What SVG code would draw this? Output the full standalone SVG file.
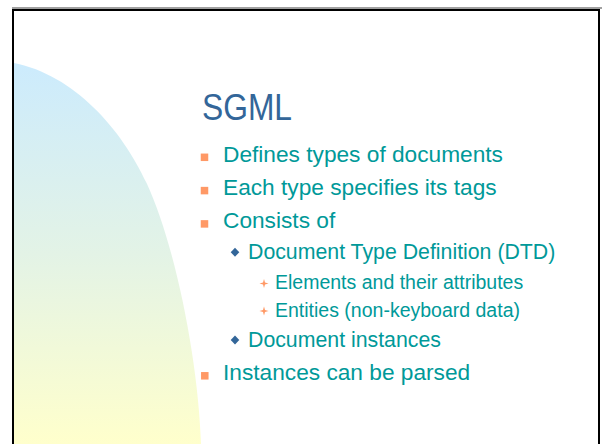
<svg xmlns="http://www.w3.org/2000/svg" xmlns:xlink="http://www.w3.org/1999/xlink" width="602" height="444" viewBox="0 0 602 444">
<defs>
<linearGradient id="bg" gradientUnits="userSpaceOnUse" x1="0" y1="63" x2="0" y2="444">
<stop offset="0" stop-color="#CCEBFD"/>
<stop offset="0.5" stop-color="#E3F3E6"/>
<stop offset="1" stop-color="#FFFFCC"/>
</linearGradient>
<rect id="sq" x="-3.75" y="-3.75" width="7.5" height="7.5" fill="#FF9966"/>
<path id="dia" d="M0,-4.5 L4.3,0 L0,4.5 L-4.3,0 Z" fill="#336699"/>
<path id="star" d="M0,-4.5 L1,-1 L4.5,0 L1,1 L0,4.5 L-1,1 L-4.5,0 L-1,-1 Z" fill="#FF9966"/>
</defs>
<style>
.t{font-family:"Liberation Sans",Arial,sans-serif;fill:#009999}
.l1{font-size:22.7px}
.l2{font-size:21.3px}
.l3{font-size:19.5px}
.title{font-family:"Liberation Sans Narrow","Liberation Sans",Arial,sans-serif;font-size:37px;fill:#336699}
</style>
<rect width="602" height="444" fill="#FFFFFF"/>
<g id="background">
<path d="M14,63 C74,75 121.5,128.7 146.7,183.3 C176.1,247 198.6,364 201,444 L14,444 Z" fill="url(#bg)"/>
</g>
<g id="frame">
<rect x="12" y="7" width="590" height="2" fill="#A0A0A0"/>
<rect x="12" y="9" width="588" height="2" fill="#000000"/>
<rect x="12" y="9" width="2" height="435" fill="#000000"/>
<rect x="598" y="9" width="2" height="435" fill="#000000"/>
</g>
<g id="title">
<text class="title" x="202" y="120" textLength="90" lengthAdjust="spacingAndGlyphs">SGML</text>
</g>
<g id="bullet1">
<use xlink:href="#sq" x="204.5" y="157.3"/>
<text class="t l1" x="223" y="161.7">Defines types of documents</text>
</g>
<g id="bullet2">
<use xlink:href="#sq" x="204.5" y="190.6"/>
<text class="t l1" x="223" y="195">Each type specifies its tags</text>
</g>
<g id="bullet3">
<use xlink:href="#sq" x="204.5" y="223.9"/>
<text class="t l1" x="223" y="228.3">Consists of</text>
</g>
<g id="bullet3-1">
<use xlink:href="#dia" x="235" y="252.2"/>
<text class="t l2" x="248" y="259.3">Document Type Definition (DTD)</text>
</g>
<g id="bullet3-1-1">
<use xlink:href="#star" x="264" y="283.5"/>
<text class="t l3" x="275" y="289.3">Elements and their attributes</text>
</g>
<g id="bullet3-1-2">
<use xlink:href="#star" x="264" y="311"/>
<text class="t l3" x="275" y="316.7">Entities (non-keyboard data)</text>
</g>
<g id="bullet3-2">
<use xlink:href="#dia" x="235" y="340"/>
<text class="t l2" x="248" y="346.7">Document instances</text>
</g>
<g id="bullet4">
<use xlink:href="#sq" x="204.8" y="375.8"/>
<text class="t l1" x="223" y="380">Instances can be parsed</text>
</g>
</svg>
